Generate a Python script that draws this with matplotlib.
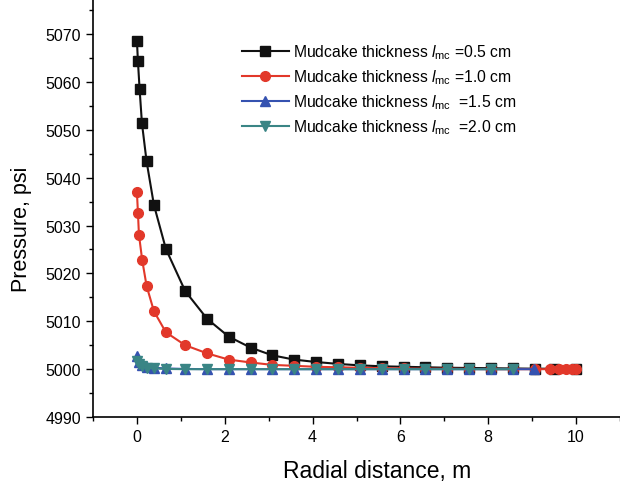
import numpy as np
import matplotlib.pyplot as plt
from matplotlib.ticker import MultipleLocator

plt.rcParams['font.family'] = ['Liberation Sans', 'DejaVu Sans']
plt.rcParams['mathtext.fontset'] = 'custom'
plt.rcParams['mathtext.rm'] = 'Liberation Sans'
plt.rcParams['mathtext.it'] = 'Liberation Sans:italic'

# radial distance (m) and pressure (psi)
x_05 = [0, 0.023, 0.061, 0.114, 0.22, 0.387, 0.66, 1.1, 1.6, 2.09, 2.59, 3.08, 3.58,
        4.08, 4.58, 5.07, 5.58, 6.08, 6.57, 7.07, 7.57, 8.07, 8.57, 9.07, 9.5, 10.0]
p_05 = [5068.6, 5064.3, 5058.5, 5051.4, 5043.4, 5034.3, 5025.1, 5016.3, 5010.5, 5006.8,
        5004.5, 5002.9, 5002.0, 5001.5, 5001.1, 5000.8, 5000.6, 5000.5, 5000.4, 5000.3,
        5000.25, 5000.2, 5000.15, 5000.1, 5000.1, 5000.1]

x_10 = [0, 0.023, 0.046, 0.12, 0.22, 0.387, 0.66, 1.1, 1.6, 2.09, 2.59, 3.08, 3.58,
        4.08, 4.58, 5.07, 5.58, 6.08, 6.57, 7.07, 7.57, 8.07, 8.57, 9.07, 9.41, 9.62,
        9.78, 9.9, 10.0]
p_10 = [5037.0, 5032.7, 5028.1, 5022.8, 5017.4, 5012.1, 5007.7, 5005.0, 5003.3, 5002.0,
        5001.4, 5000.9, 5000.7, 5000.5, 5000.4, 5000.3, 5000.2, 5000.15, 5000.1, 5000.1,
        5000.05, 5000.0, 5000.0, 5000.0, 5000.0, 5000.0, 5000.0, 5000.0, 5000.0]

x_15 = [0, 0.05, 0.12, 0.22, 0.387, 0.66, 1.1, 1.6, 2.09, 2.59, 3.08, 3.58, 4.08, 4.58,
        5.07, 5.58, 6.08, 6.57, 7.07, 7.57, 8.07, 8.57, 9.05]
p_15 = [5002.7, 5001.5, 5000.9, 5000.5, 5000.3, 5000.15, 5000.05, 5000.0, 5000.0, 5000.0,
        5000.0, 5000.0, 5000.0, 5000.0, 5000.0, 5000.0, 5000.0, 5000.0, 5000.0, 5000.0,
        5000.0, 5000.0, 5000.0]

x_20 = [0, 0.05, 0.12, 0.22, 0.387, 0.66, 1.1, 1.6, 2.09, 2.59, 3.08, 3.58, 4.08, 4.58,
        5.07, 5.58, 6.08, 6.57, 7.07, 7.57, 8.07, 8.56]
p_20 = [5001.8, 5001.0, 5000.6, 5000.3, 5000.15, 5000.05, 5000.0, 5000.0, 5000.0, 5000.0,
        5000.0, 5000.0, 5000.0, 5000.0, 5000.0, 5000.0, 5000.0, 5000.0, 5000.0, 5000.0,
        5000.0, 5000.0]

labels = [r'Mudcake thickness $\mathit{l}_{\mathrm{mc}}$ =0.5 cm',
          r'Mudcake thickness $\mathit{l}_{\mathrm{mc}}$ =1.0 cm',
          r'Mudcake thickness $\mathit{l}_{\mathrm{mc}}$  =1.5 cm',
          r'Mudcake thickness $\mathit{l}_{\mathrm{mc}}$  =2.0 cm']

fig = plt.figure(figsize=(6.2, 4.85), dpi=100)
ax = fig.add_axes([0.15, 0.138, 0.85, 0.862])

ax.plot(x_05, p_05, color='#111111', marker='s', ms=6.5, lw=1.5, label=labels[0])
ax.plot(x_10, p_10, color='#e2382a', marker='o', ms=7, lw=1.5, label=labels[1])
ax.plot(x_15, p_15, color='#3552b0', marker='^', ms=7.5, lw=1.5, label=labels[2])
ax.plot(x_20, p_20, color='#3a8585', marker='v', ms=7.5, lw=1.5, label=labels[3])

ax.set_xlim(-1, 11)
ax.set_ylim(4990, 5077.3)
ax.xaxis.set_major_locator(MultipleLocator(2))
ax.xaxis.set_minor_locator(MultipleLocator(1))
ax.yaxis.set_major_locator(MultipleLocator(10))
ax.yaxis.set_minor_locator(MultipleLocator(5))
ax.tick_params(which='major', direction='out', length=5, width=1, labelsize=11.5)
ax.tick_params(which='minor', direction='out', length=3, width=1)
ax.spines['top'].set_visible(False)
ax.spines['right'].set_visible(False)
for s in ['left', 'bottom']:
    ax.spines[s].set_linewidth(1.2)

ax.set_xlabel('Radial distance, m', fontsize=16.5, labelpad=11)
ax.set_ylabel('Pressure, psi', fontsize=15.5, labelpad=10)
ax.xaxis.label.set_x(0.539)
ax.yaxis.label.set_y(0.452)

ax.legend(loc='upper left', bbox_to_anchor=(0.255, 0.93), frameon=False, fontsize=11.3,
          handlelength=3.0, handletextpad=0.3, labelspacing=0.4)

plt.savefig('out.png', dpi=100)
